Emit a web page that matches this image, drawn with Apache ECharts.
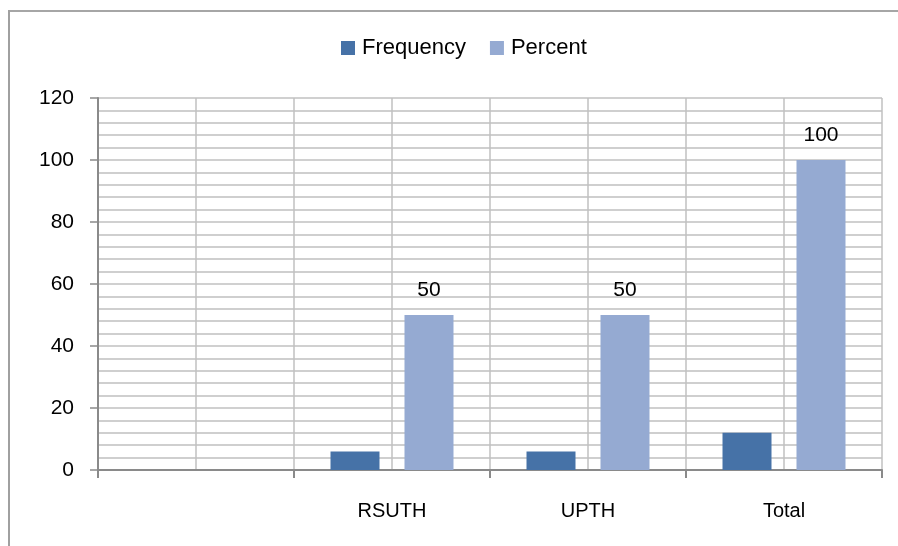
<!DOCTYPE html>
<html>
<head>
<meta charset="utf-8">
<script src="https://cdn.jsdelivr.net/npm/echarts@6/dist/echarts.min.js"></script>
<style>html,body{margin:0;padding:0;background:#fff}#c{width:898px;height:546px}</style>
</head>
<body>
<div id="c"></div>
<script>
const categories = ['', 'RSUTH', 'UPTH', 'Total'];
const frequency = [null, 6, 6, 12];
const percent = [null, 50, 50, 100];
const seriesNames = ['Frequency', 'Percent'];
const yMin = 0, yMax = 120, yStep = 20;
const halfSlots = ['a','b','c','d','e','f','g','h'];

const gridColor = '#c0c0c0';
const axisColor = '#8a8a8a';
const font = 'Liberation Sans';

const chart = echarts.init(document.getElementById('c'), null, {renderer: 'canvas'});
chart.setOption({
  animation: false,
  backgroundColor: '#fff',
  textStyle: {fontFamily: font},
  grid: {left: 98, right: 16, top: 98, bottom: 76, containLabel: false},
  legend: {
    data: seriesNames,
    left: 341, top: 37, padding: 0,
    itemWidth: 14, itemHeight: 14, itemGap: 24,
    icon: 'rect',
    textStyle: {fontFamily: font, fontSize: 22, color: '#000', padding: [0,0,0,2], lineHeight: 22}
  },
  xAxis: [{
    type: 'category', data: categories, position: 'bottom',
    axisLine: {lineStyle: {color: axisColor, width: 2}},
    axisTick: {show: true, length: 8, alignWithLabel: false, lineStyle: {color: axisColor, width: 2}},
    axisLabel: {fontFamily: font, fontSize: 20, color: '#000', margin: 31, interval: 0},
    splitLine: {show: false}
  }, {
    type: 'category', data: halfSlots, position: 'bottom',
    axisLine: {show: false}, axisTick: {show: false}, axisLabel: {show: false},
    splitLine: {show: true, interval: 0, lineStyle: {color: gridColor, width: 1.5}}
  }],
  yAxis: {
    type: 'value', min: yMin, max: yMax, interval: yStep,
    axisLine: {show: true, lineStyle: {color: axisColor, width: 2}},
    axisTick: {show: true, length: 8, lineStyle: {color: axisColor, width: 1.5}},
    axisLabel: {fontFamily: font, fontSize: 21, color: '#000', margin: 24},
    splitLine: {show: true, lineStyle: {color: gridColor, width: 1.5}},
    minorTick: {show: false, splitNumber: 5},
    minorSplitLine: {show: true, lineStyle: {color: gridColor, width: 1.5}}
  },
  series: [{
    name: seriesNames[0], type: 'bar', xAxisIndex: 0, data: frequency,
    barWidth: 49, barGap: '51%',
    itemStyle: {color: '#4672A7'}
  }, {
    name: seriesNames[1], type: 'bar', xAxisIndex: 0, data: percent,
    barWidth: 49,
    itemStyle: {color: '#95AAD2'},
    label: {show: true, position: 'top', distance: 14, fontFamily: font, fontSize: 21, color: '#000'}
  }],
  graphic: [
    {type: 'line', shape: {x1: 9, y1: 11, x2: 898, y2: 11}, style: {stroke: '#a6a6a6', lineWidth: 2}},
    {type: 'line', shape: {x1: 9, y1: 10, x2: 9, y2: 546}, style: {stroke: '#a0a0a0', lineWidth: 2}}
  ]
});
</script>
</body>
</html>
